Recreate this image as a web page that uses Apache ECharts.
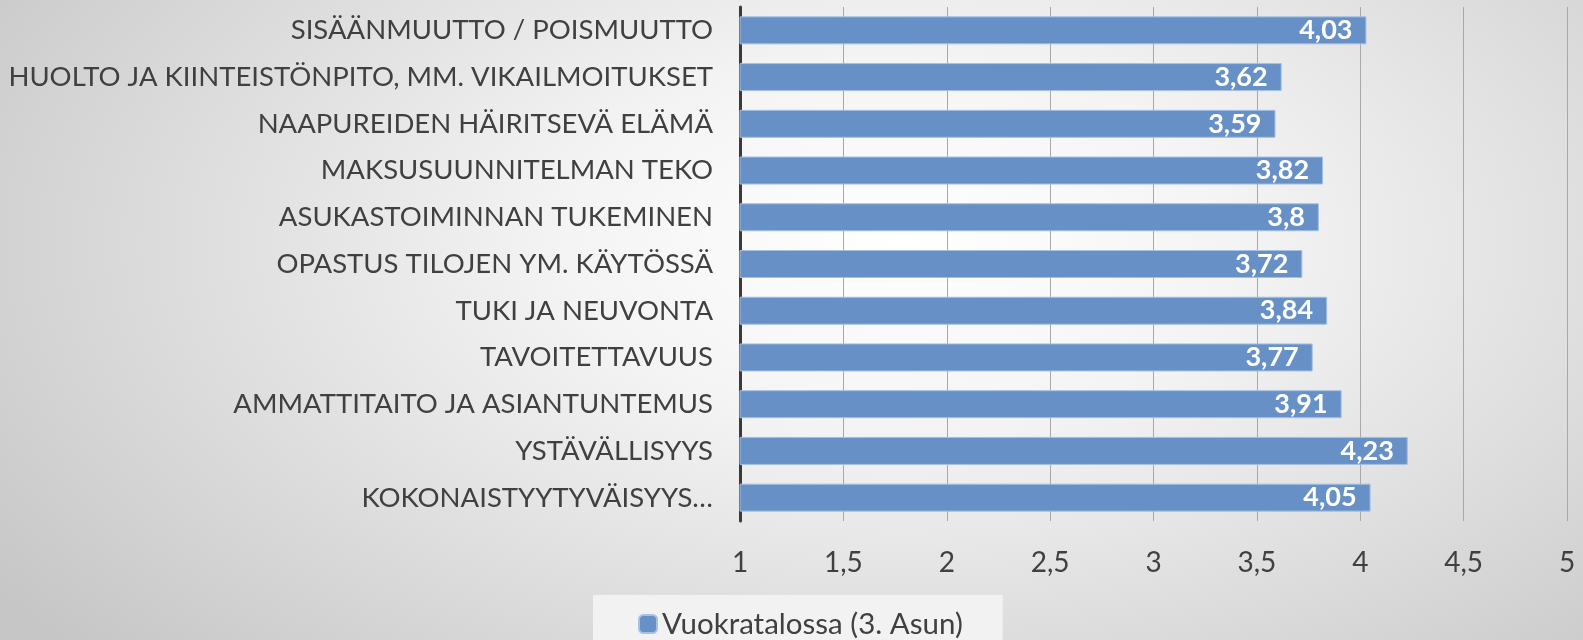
<!DOCTYPE html>
<html>
<head>
<meta charset="utf-8">
<script src="https://cdn.jsdelivr.net/npm/echarts@6/dist/echarts.min.js"></script>
<style>
  html, body { margin: 0; padding: 0; }
  #chart {
    width: 1583px;
    height: 640px;
    background: radial-gradient(ellipse 70% 95% at 57% 38%, #ffffff 0%, #f4f4f4 30%, #c6c6c6 100%);
  }
</style>
</head>
<body>
<div id="chart"></div>
<script>
  // data, top to bottom as in the picture
  const categories = [
    'SISÄÄNMUUTTO / POISMUUTTO',
    'HUOLTO JA KIINTEISTÖNPITO, MM. VIKAILMOITUKSET',
    'NAAPUREIDEN HÄIRITSEVÄ ELÄMÄ',
    'MAKSUSUUNNITELMAN TEKO',
    'ASUKASTOIMINNAN TUKEMINEN',
    'OPASTUS TILOJEN YM. KÄYTÖSSÄ',
    'TUKI JA NEUVONTA',
    'TAVOITETTAVUUS',
    'AMMATTITAITO JA ASIANTUNTEMUS',
    'YSTÄVÄLLISYYS',
    'KOKONAISTYYTYVÄISYYS…'
  ];
  const seriesName = 'Vuokratalossa (3. Asun)';
  const values = [4.03, 3.62, 3.59, 3.82, 3.8, 3.72, 3.84, 3.77, 3.91, 4.23, 4.05];

  const comma = v => String(v).replace('.', ',');
  const font = 'Lato, "Open Sans", sans-serif';

  const myChart = echarts.init(document.getElementById('chart'));
  myChart.setOption({
    backgroundColor: 'transparent',
    textStyle: { fontFamily: font },
    grid: { left: 740, right: 16, top: 7, bottom: 119, containLabel: false },
    legend: {
      data: [seriesName],
      left: 593,
      bottom: -11,
      padding: [14, 40, 12, 45],
      backgroundColor: '#f2f2f2',
      itemWidth: 18,
      itemHeight: 18,
      itemGap: 9,
      textStyle: { fontSize: 29.5, color: '#404040', fontFamily: font }
    },
    xAxis: {
      type: 'value',
      min: 1,
      max: 5,
      interval: 0.5,
      axisLine: { show: false },
      axisTick: { show: false },
      splitLine: { lineStyle: { color: '#a8a8a8', width: 1 } },
      axisLabel: {
        margin: 28,
        fontSize: 28,
        color: '#404040',
        formatter: v => comma(v)
      }
    },
    yAxis: {
      type: 'category',
      data: categories,
      inverse: true,
      axisLine: { show: true, lineStyle: { color: '#3a3a3a', width: 3 } },
      axisTick: { show: false },
      axisLabel: { margin: 27, fontSize: 27.5, color: '#404040' }
    },
    series: [
      {
        name: seriesName,
        type: 'bar',
        data: values,
        barWidth: 28,
        itemStyle: { color: '#6791c6', borderColor: '#a4c0e3', borderWidth: 1 },
        label: {
          show: true,
          position: 'insideRight',
          distance: 14,
          color: '#ffffff',
          fontWeight: 'bold',
          fontSize: 27,
          formatter: p => comma(p.value)
        }
      }
    ]
  });
</script>
</body>
</html>
